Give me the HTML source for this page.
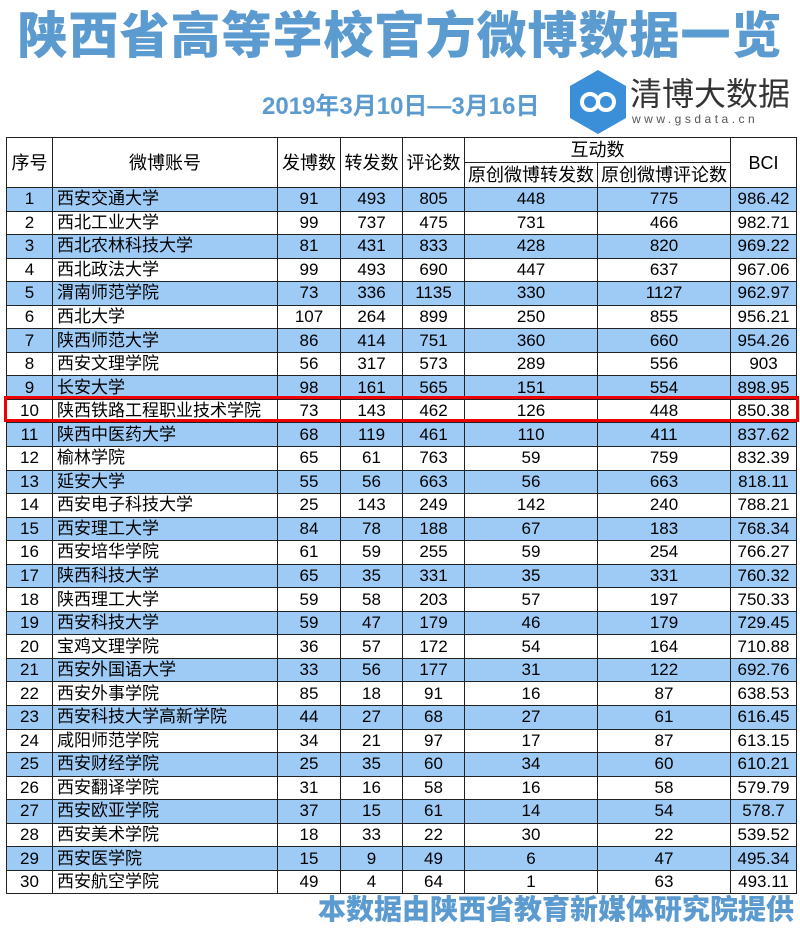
<!DOCTYPE html><html><head><meta charset="utf-8"><style>
body{margin:0;width:800px;height:930px;background:#fff;position:relative;overflow:hidden;font-family:"Liberation Sans","Noto Sans CJK SC",sans-serif}
.t{position:absolute;left:0;top:2px;width:800px;text-align:center;font-size:50px;font-weight:900;color:#5b9bd0;letter-spacing:1px;font-family:"Noto Sans CJK SC",sans-serif;line-height:60px}
.d{position:absolute;left:262px;top:86px;font-size:24px;font-weight:bold;color:#5b9bd0;font-family:"Liberation Sans","Noto Sans CJK SC",sans-serif}
.hex{position:absolute;left:570px;top:70px}
.q{position:absolute;left:630px;top:72px;font-size:32px;color:#333;font-family:"Noto Sans CJK SC",sans-serif;line-height:40px}
.w{position:absolute;left:632px;top:112px;font-size:12px;color:#555;letter-spacing:3.5px}
table{position:absolute;left:6px;top:137px;border-collapse:collapse;table-layout:fixed;width:790px}
td{border:1.5px solid #222;padding:0;height:22.55px;font-size:17px;text-align:center;white-space:nowrap;overflow:hidden;line-height:22px}
td.n{text-align:left;padding-left:4px}
tr.b td{background:#9ecbf6}
.h td{height:24px;font-size:18px}
.f{position:absolute;right:6px;top:888px;font-size:28px;font-weight:900;color:#5b9bd0;font-family:"Noto Sans CJK SC",sans-serif;line-height:40px}
.red{position:absolute;left:4px;top:396px;width:789px;height:20px;border:3px solid #e00;}
</style></head><body>
<div class="t">陕西省高等学校官方微博数据一览</div>
<div class="d">2019年3月10日—3月16日</div>
<svg class="hex" width="56" height="64" viewBox="0 0 56 64"><polygon points="28,0 56,16 56,48 28,64 0,48 0,16" fill="#3a8fd8"/><circle cx="20" cy="32" r="8" fill="none" stroke="#fff" stroke-width="4"/><circle cx="36" cy="32" r="8" fill="none" stroke="#fff" stroke-width="4"/></svg>
<div class="q">清博大数据</div>
<div class="w">www.gsdata.cn</div>
<table>
<colgroup><col style="width:46px"><col style="width:225px"><col style="width:63px"><col style="width:62px"><col style="width:62px"><col style="width:133px"><col style="width:133px"><col style="width:66px"></colgroup>
<tr class="h"><td rowspan="2">序号</td><td rowspan="2">微博账号</td><td rowspan="2">发博数</td><td rowspan="2">转发数</td><td rowspan="2">评论数</td><td colspan="2">互动数</td><td rowspan="2">BCI</td></tr>
<tr class="h"><td>原创微博转发数</td><td>原创微博评论数</td></tr>
<tr class="b"><td>1</td><td class="n">西安交通大学</td><td>91</td><td>493</td><td>805</td><td>448</td><td>775</td><td>986.42</td></tr>
<tr><td>2</td><td class="n">西北工业大学</td><td>99</td><td>737</td><td>475</td><td>731</td><td>466</td><td>982.71</td></tr>
<tr class="b"><td>3</td><td class="n">西北农林科技大学</td><td>81</td><td>431</td><td>833</td><td>428</td><td>820</td><td>969.22</td></tr>
<tr><td>4</td><td class="n">西北政法大学</td><td>99</td><td>493</td><td>690</td><td>447</td><td>637</td><td>967.06</td></tr>
<tr class="b"><td>5</td><td class="n">渭南师范学院</td><td>73</td><td>336</td><td>1135</td><td>330</td><td>1127</td><td>962.97</td></tr>
<tr><td>6</td><td class="n">西北大学</td><td>107</td><td>264</td><td>899</td><td>250</td><td>855</td><td>956.21</td></tr>
<tr class="b"><td>7</td><td class="n">陕西师范大学</td><td>86</td><td>414</td><td>751</td><td>360</td><td>660</td><td>954.26</td></tr>
<tr><td>8</td><td class="n">西安文理学院</td><td>56</td><td>317</td><td>573</td><td>289</td><td>556</td><td>903</td></tr>
<tr class="b"><td>9</td><td class="n">长安大学</td><td>98</td><td>161</td><td>565</td><td>151</td><td>554</td><td>898.95</td></tr>
<tr><td>10</td><td class="n">陕西铁路工程职业技术学院</td><td>73</td><td>143</td><td>462</td><td>126</td><td>448</td><td>850.38</td></tr>
<tr class="b"><td>11</td><td class="n">陕西中医药大学</td><td>68</td><td>119</td><td>461</td><td>110</td><td>411</td><td>837.62</td></tr>
<tr><td>12</td><td class="n">榆林学院</td><td>65</td><td>61</td><td>763</td><td>59</td><td>759</td><td>832.39</td></tr>
<tr class="b"><td>13</td><td class="n">延安大学</td><td>55</td><td>56</td><td>663</td><td>56</td><td>663</td><td>818.11</td></tr>
<tr><td>14</td><td class="n">西安电子科技大学</td><td>25</td><td>143</td><td>249</td><td>142</td><td>240</td><td>788.21</td></tr>
<tr class="b"><td>15</td><td class="n">西安理工大学</td><td>84</td><td>78</td><td>188</td><td>67</td><td>183</td><td>768.34</td></tr>
<tr><td>16</td><td class="n">西安培华学院</td><td>61</td><td>59</td><td>255</td><td>59</td><td>254</td><td>766.27</td></tr>
<tr class="b"><td>17</td><td class="n">陕西科技大学</td><td>65</td><td>35</td><td>331</td><td>35</td><td>331</td><td>760.32</td></tr>
<tr><td>18</td><td class="n">陕西理工大学</td><td>59</td><td>58</td><td>203</td><td>57</td><td>197</td><td>750.33</td></tr>
<tr class="b"><td>19</td><td class="n">西安科技大学</td><td>59</td><td>47</td><td>179</td><td>46</td><td>179</td><td>729.45</td></tr>
<tr><td>20</td><td class="n">宝鸡文理学院</td><td>36</td><td>57</td><td>172</td><td>54</td><td>164</td><td>710.88</td></tr>
<tr class="b"><td>21</td><td class="n">西安外国语大学</td><td>33</td><td>56</td><td>177</td><td>31</td><td>122</td><td>692.76</td></tr>
<tr><td>22</td><td class="n">西安外事学院</td><td>85</td><td>18</td><td>91</td><td>16</td><td>87</td><td>638.53</td></tr>
<tr class="b"><td>23</td><td class="n">西安科技大学高新学院</td><td>44</td><td>27</td><td>68</td><td>27</td><td>61</td><td>616.45</td></tr>
<tr><td>24</td><td class="n">咸阳师范学院</td><td>34</td><td>21</td><td>97</td><td>17</td><td>87</td><td>613.15</td></tr>
<tr class="b"><td>25</td><td class="n">西安财经学院</td><td>25</td><td>35</td><td>60</td><td>34</td><td>60</td><td>610.21</td></tr>
<tr><td>26</td><td class="n">西安翻译学院</td><td>31</td><td>16</td><td>58</td><td>16</td><td>58</td><td>579.79</td></tr>
<tr class="b"><td>27</td><td class="n">西安欧亚学院</td><td>37</td><td>15</td><td>61</td><td>14</td><td>54</td><td>578.7</td></tr>
<tr><td>28</td><td class="n">西安美术学院</td><td>18</td><td>33</td><td>22</td><td>30</td><td>22</td><td>539.52</td></tr>
<tr class="b"><td>29</td><td class="n">西安医学院</td><td>15</td><td>9</td><td>49</td><td>6</td><td>47</td><td>495.34</td></tr>
<tr><td>30</td><td class="n">西安航空学院</td><td>49</td><td>4</td><td>64</td><td>1</td><td>63</td><td>493.11</td></tr>
</table>
<div class="red"></div>
<div class="f">本数据由陕西省教育新媒体研究院提供</div>
</body></html>
